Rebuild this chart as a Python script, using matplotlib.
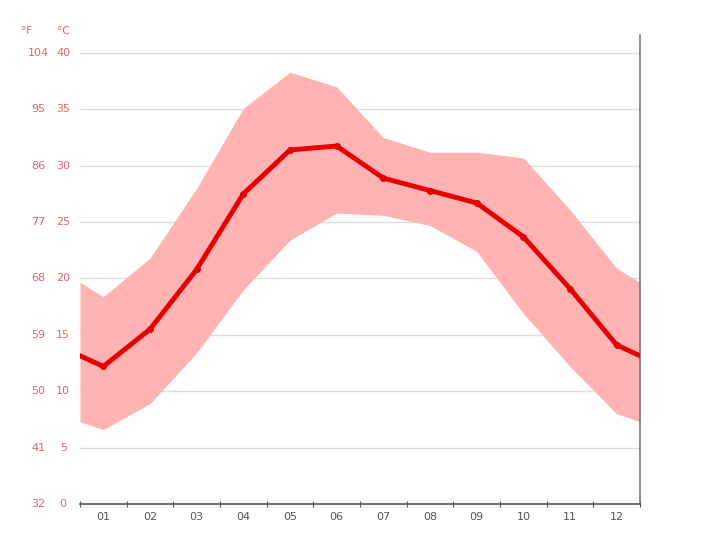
import numpy as np
import matplotlib.pyplot as plt

# 月別の気温 (°C)
months = ["01", "02", "03", "04", "05", "06", "07", "08", "09", "10", "11", "12"]
temp_mean = [12.2, 15.5, 20.8, 27.5, 31.4, 31.75, 28.9, 27.8, 26.7, 23.7, 19.1, 14.1]
temp_max = [18.4, 21.8, 28.0, 35.1, 38.3, 37.0, 32.5, 31.2, 31.2, 30.7, 26.1, 20.9]
temp_min = [6.6, 8.9, 13.4, 19.0, 23.4, 25.8, 25.6, 24.7, 22.4, 16.9, 12.2, 8.0]
c_ticks = [0, 5, 10, 15, 20, 25, 30, 35, 40]
f_ticks = ["32", "41", "50", "59", "68", "77", "86", "95", "104"]

x = np.arange(1, 13)

# 端は12月と1月の平均でつなぐ
def wrap(v):
    edge = (v[0] + v[-1]) / 2
    return np.concatenate([[edge], v, [edge]])

xw = np.concatenate([[0.5], x, [12.5]])

fig = plt.figure(figsize=(7.2, 5.39), dpi=100)
ax = fig.add_axes([80 / 720, 1 - 504 / 539, 560 / 720, 469 / 539])

ax.fill_between(xw, wrap(temp_min), wrap(temp_max), color="#ffb3b3", lw=0, zorder=2)
ax.plot(xw, wrap(temp_mean), color="#e60000", lw=3.5, zorder=3, solid_joinstyle="round")
ax.plot(x, temp_mean, "o", color="#e60000", ms=4, zorder=4)

ax.set_xlim(0.5, 12.5)
ax.set_ylim(0, 40 * 469 / 451)

for c in c_ticks[1:]:
    ax.axhline(c, color="#dddddd", lw=1, zorder=1)

for s in ["top", "left"]:
    ax.spines[s].set_visible(False)
ax.spines["bottom"].set_color("#555555")
ax.spines["right"].set_color("#777777")
ax.spines["bottom"].set_linewidth(1.2)
ax.spines["right"].set_linewidth(1.2)

ax.set_xticks(np.arange(0.5, 13, 1))
ax.set_xticklabels([])
ax.set_xticks(x, minor=True)
ax.set_xticklabels(months, minor=True, fontsize=8, color="#555555")
ax.tick_params(axis="x", which="major", direction="inout", length=4, color="#555555")
ax.tick_params(axis="x", which="minor", length=0, pad=6)
ax.set_yticks([])

# 左の温度ラベル (°F / °C)
tr = ax.get_yaxis_transform()
for c, f in zip(c_ticks, f_ticks):
    ax.text(-0.075, c, f, transform=tr, ha="center", va="center", fontsize=8, color="#e06666")
    ax.text(-0.03, c, str(c), transform=tr, ha="center", va="center", fontsize=8, color="#e06666")
fig.text(27 / 720, 1 - 31 / 539, "°F", ha="center", va="center", fontsize=7.5, color="#e06666")
fig.text(63 / 720, 1 - 31 / 539, "°C", ha="center", va="center", fontsize=7.5, color="#e06666")

fig.savefig("out.png", dpi=100)
